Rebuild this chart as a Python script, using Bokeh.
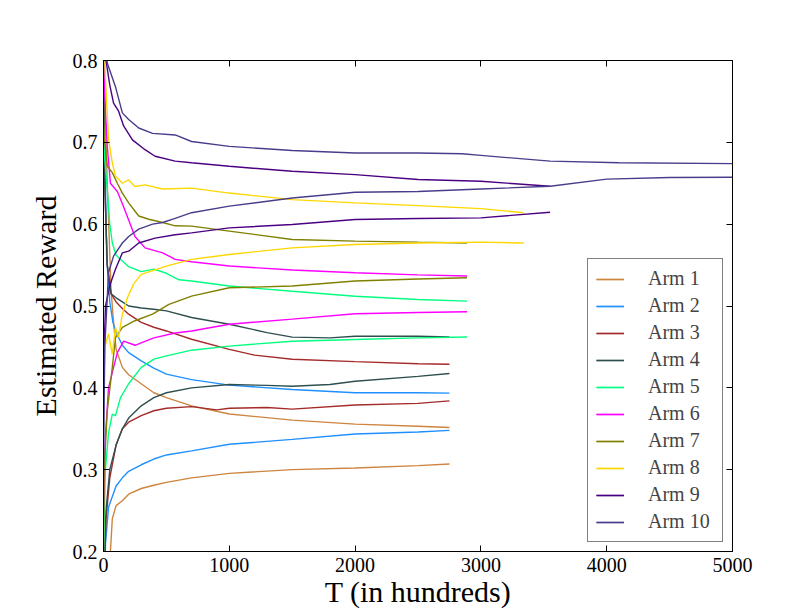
import math
from bokeh.plotting import figure
from bokeh.models import Legend, LegendItem, LinearAxis, FixedTicker
from bokeh.embed import file_html
from bokeh.resources import INLINE

# ---------------- data ----------------
arm_labels = ["Arm 1", "Arm 2", "Arm 3", "Arm 4", "Arm 5",
              "Arm 6", "Arm 7", "Arm 8", "Arm 9", "Arm 10"]
arm_colors = ["#CD853F", "#1E90FF", "#A52A2A", "#2F4F4F", "#00FF7F",
              "#FF00FF", "#808000", "#FFD700", "#4B0082", "#483D8B"]

# Arm 1
a1_upper_t = [0, 10, 30, 60, 80, 100, 150, 200, 300, 400, 500, 700, 1000, 1500, 2000, 2500, 2750]
a1_upper_v = [0.85, 0.75, 0.65, 0.52, 0.48, 0.447, 0.425, 0.416, 0.405, 0.394, 0.388, 0.378, 0.368, 0.3606, 0.3557, 0.353, 0.3516]
a1_lower_t = [0, 55, 70, 100, 150, 200, 300, 400, 500, 700, 1000, 1500, 2000, 2500, 2750]
a1_lower_v = [0.10, 0.20, 0.24, 0.256, 0.262, 0.27, 0.277, 0.281, 0.2845, 0.29, 0.2955, 0.30, 0.302, 0.305, 0.307]
# Arm 2
a2_upper_t = [0, 10, 25, 50, 75, 100, 150, 200, 300, 400, 500, 700, 1000, 1500, 2000, 2500, 2750]
a2_upper_v = [0.85, 0.70, 0.56, 0.505, 0.48, 0.468, 0.452, 0.443, 0.433, 0.424, 0.4167, 0.41, 0.4033, 0.398, 0.394, 0.394, 0.3935]
a2_lower_t = [0, 16, 40, 100, 150, 200, 250, 300, 400, 500, 700, 1000, 1500, 2000, 2500, 2750]
a2_lower_v = [0.10, 0.21, 0.254, 0.28, 0.29, 0.298, 0.302, 0.306, 0.313, 0.318, 0.323, 0.331, 0.337, 0.3435, 0.346, 0.348]
# Arm 3
a3_upper_t = [0, 10, 30, 60, 100, 150, 200, 300, 400, 500, 700, 1000, 1200, 1500, 2000, 2500, 2750]
a3_upper_v = [0.75, 0.65, 0.55, 0.515, 0.505, 0.497, 0.49, 0.48, 0.474, 0.4695, 0.4594, 0.447, 0.44, 0.435, 0.432, 0.4295, 0.4289]
a3_lower_t = [0, 20, 50, 100, 150, 200, 300, 400, 500, 700, 900, 1000, 1300, 1500, 2000, 2500, 2750]
a3_lower_v = [0.15, 0.24, 0.29, 0.33, 0.35, 0.358, 0.366, 0.372, 0.375, 0.377, 0.373, 0.375, 0.376, 0.374, 0.379, 0.381, 0.384]
# Arm 4
a4_upper_t = [0, 10, 30, 60, 100, 150, 200, 300, 400, 500, 700, 1000, 1300, 1500, 1800, 2000, 2500, 2750]
a4_upper_v = [0.80, 0.65, 0.55, 0.515, 0.51, 0.505, 0.50, 0.4976, 0.496, 0.494, 0.486, 0.4777, 0.4675, 0.462, 0.461, 0.463, 0.463, 0.4622]
a4_lower_t = [0, 20, 50, 100, 150, 200, 300, 400, 500, 700, 1000, 1300, 1500, 1800, 2000, 2500, 2750]
a4_lower_v = [0.15, 0.25, 0.30, 0.33, 0.35, 0.363, 0.378, 0.388, 0.394, 0.40, 0.404, 0.403, 0.402, 0.404, 0.408, 0.414, 0.4175]
# Arm 5
a5_upper_t = [0, 10, 30, 50, 70, 100, 150, 200, 300, 400, 500, 600, 700, 1000, 1500, 2000, 2500, 2890]
a5_upper_v = [0.72, 0.68, 0.642, 0.60, 0.577, 0.562, 0.555, 0.548, 0.542, 0.545, 0.54, 0.532, 0.5305, 0.5244, 0.518, 0.512, 0.508, 0.506]
a5_lower_t = [0, 15, 40, 70, 95, 135, 200, 300, 400, 500, 700, 1000, 1500, 2000, 2500, 2890]
a5_lower_v = [0.20, 0.30, 0.345, 0.368, 0.366, 0.388, 0.405, 0.425, 0.435, 0.439, 0.446, 0.451, 0.457, 0.459, 0.461, 0.4622]
# Arm 6
a6_upper_t = [0, 15, 30, 55, 110, 150, 200, 250, 330, 470, 570, 700, 1000, 1500, 2000, 2500, 2890]
a6_upper_v = [0.80, 0.74, 0.695, 0.65, 0.64, 0.625, 0.605, 0.585, 0.571, 0.565, 0.557, 0.554, 0.5488, 0.544, 0.5406, 0.538, 0.5366]
a6_lower_t = [0, 15, 40, 80, 110, 160, 250, 400, 570, 700, 1000, 1500, 2000, 2500, 2890]
a6_lower_v = [0.25, 0.34, 0.40, 0.425, 0.443, 0.457, 0.452, 0.461, 0.467, 0.4695, 0.4777, 0.484, 0.4906, 0.492, 0.493]
# Arm 7
a7_upper_t = [0, 5, 30, 70, 110, 150, 200, 280, 360, 470, 570, 700, 1000, 1500, 2000, 2500, 2890]
a7_upper_v = [0.75, 0.707, 0.671, 0.663, 0.65, 0.638, 0.626, 0.61, 0.606, 0.602, 0.598, 0.5976, 0.5915, 0.5813, 0.5793, 0.578, 0.577]
a7_lower_t = [0, 5, 30, 70, 95, 150, 250, 390, 520, 700, 1000, 1500, 2000, 2500, 2890]
a7_lower_v = [0.20, 0.30, 0.372, 0.425, 0.461, 0.474, 0.482, 0.49, 0.502, 0.512, 0.5223, 0.5244, 0.5305, 0.533, 0.5345]
# Arm 8
a8_upper_t = [0, 15, 40, 70, 95, 150, 200, 250, 330, 470, 700, 1000, 1500, 2000, 2500, 3000, 3340]
a8_upper_v = [0.85, 0.78, 0.704, 0.675, 0.659, 0.65, 0.654, 0.646, 0.648, 0.643, 0.644, 0.638, 0.630, 0.626, 0.6227, 0.619, 0.614]
a8_lower_t = [0, 15, 40, 70, 95, 120, 150, 190, 240, 300, 500, 700, 1000, 1500, 2000, 2500, 3000, 3340]
a8_lower_v = [0.40, 0.453, 0.466, 0.441, 0.4735, 0.462, 0.49, 0.51, 0.527, 0.5387, 0.5488, 0.557, 0.563, 0.571, 0.5752, 0.577, 0.578, 0.577]
# Arm 9
a9_upper_t = [0, 20, 50, 80, 120, 160, 230, 330, 410, 570, 700, 1000, 1500, 2000, 2500, 3000, 3550]
a9_upper_v = [0.85, 0.80, 0.77, 0.748, 0.738, 0.72, 0.703, 0.691, 0.683, 0.677, 0.675, 0.6707, 0.6646, 0.6606, 0.6545, 0.6524, 0.6463]
a9_lower_t = [0, 5, 16, 50, 95, 150, 200, 280, 410, 570, 700, 1000, 1500, 2000, 2500, 3000, 3550]
a9_lower_v = [0.40, 0.45, 0.50, 0.525, 0.545, 0.565, 0.567, 0.577, 0.583, 0.587, 0.5894, 0.5955, 0.5996, 0.6057, 0.607, 0.6077, 0.6146]
# Arm 10
a10_upper_t = [0, 30, 95, 150, 200, 280, 390, 570, 700, 1000, 1500, 2000, 2500, 2850, 3000, 3550, 4100, 5000]
a10_upper_v = [0.85, 0.797, 0.768, 0.736, 0.728, 0.7175, 0.711, 0.709, 0.701, 0.695, 0.69, 0.687, 0.687, 0.686, 0.684, 0.677, 0.675, 0.674]
a10_lower_t = [0, 10, 40, 80, 150, 200, 280, 390, 470, 570, 700, 1000, 1500, 2000, 2500, 3000, 3550, 4000, 4500, 5000]
a10_lower_v = [0.30, 0.45, 0.541, 0.561, 0.577, 0.585, 0.594, 0.60, 0.602, 0.607, 0.614, 0.622, 0.632, 0.639, 0.640, 0.643, 0.6463, 0.655, 0.657, 0.6573]

uppers = [(a1_upper_t, a1_upper_v), (a2_upper_t, a2_upper_v), (a3_upper_t, a3_upper_v),
          (a4_upper_t, a4_upper_v), (a5_upper_t, a5_upper_v), (a6_upper_t, a6_upper_v),
          (a7_upper_t, a7_upper_v), (a8_upper_t, a8_upper_v), (a9_upper_t, a9_upper_v),
          (a10_upper_t, a10_upper_v)]
lowers = [(a1_lower_t, a1_lower_v), (a2_lower_t, a2_lower_v), (a3_lower_t, a3_lower_v),
          (a4_lower_t, a4_lower_v), (a5_lower_t, a5_lower_v), (a6_lower_t, a6_lower_v),
          (a7_lower_t, a7_lower_v), (a8_lower_t, a8_lower_v), (a9_lower_t, a9_lower_v),
          (a10_lower_t, a10_lower_v)]

x_ticks = [0, 1000, 2000, 3000, 4000, 5000]
y_ticks = [0.2, 0.3, 0.4, 0.5, 0.6, 0.7, 0.8]
x_label = "T (in hundreds)"
y_label = "Estimated Reward"

FONT = "Liberation Serif"

# ---------------- figure ----------------
p = figure(width=812, height=612, x_range=(0, 5000), y_range=(0.2, 0.8),
           output_backend="svg", toolbar_location=None,
           min_border_left=103, min_border_right=80, min_border_top=60, min_border_bottom=61)
p.background_fill_color = "white"
p.border_fill_color = "white"
p.outline_line_color = "black"
p.outline_line_width = 1
p.xgrid.visible = False
p.ygrid.visible = False

bottom_axis = p.below[0]
left_axis = p.left[0]

def style_axis(ax, ticks, show_labels, standoff):
    ax.ticker = FixedTicker(ticks=ticks)
    ax.major_tick_in = 6
    ax.major_tick_out = 0
    ax.minor_tick_line_color = None
    ax.axis_line_color = "black"
    ax.major_tick_line_color = "black"
    ax.major_label_text_font = FONT
    ax.major_label_text_color = "black"
    ax.major_label_text_font_size = "20px"
    if show_labels:
        ax.major_label_standoff = standoff
    else:
        ax.major_label_overrides = {t: "" for t in ticks}
        ax.major_label_standoff = 0

style_axis(bottom_axis, x_ticks, True, 6)
style_axis(left_axis, y_ticks, True, 6)
top_axis = LinearAxis()
right_axis = LinearAxis()
style_axis(top_axis, x_ticks, False, 0)
style_axis(right_axis, y_ticks, False, 0)
p.add_layout(top_axis, "above")
p.add_layout(right_axis, "right")

bottom_axis.axis_label = x_label
bottom_axis.axis_label_standoff = 0
left_axis.axis_label = y_label
left_axis.axis_label_standoff = 8
for ax in (bottom_axis, left_axis):
    ax.axis_label_text_font = FONT
    ax.axis_label_text_font_size = "30px"
    ax.axis_label_text_font_style = "normal"
    ax.axis_label_text_color = "black"

items = []
for i in range(10):
    tu, vu = uppers[i]
    tl, vl = lowers[i]
    r1 = p.line(tu, vu, line_color=arm_colors[i], line_width=1.4)
    r2 = p.line(tl, vl, line_color=arm_colors[i], line_width=1.4)
    items.append(LegendItem(label=arm_labels[i], renderers=[r1, r2]))

legend = Legend(items=items, location="bottom_right", margin=9, padding=8,
                spacing=4, glyph_width=28, glyph_height=22, label_height=22,
                label_width=66, label_standoff=24, label_text_font=FONT,
                label_text_font_size="20px",
                border_line_color="black", border_line_width=1,
                background_fill_color="white", background_fill_alpha=1.0)
p.add_layout(legend)

open("out.html", "w").write(file_html(p, INLINE))
